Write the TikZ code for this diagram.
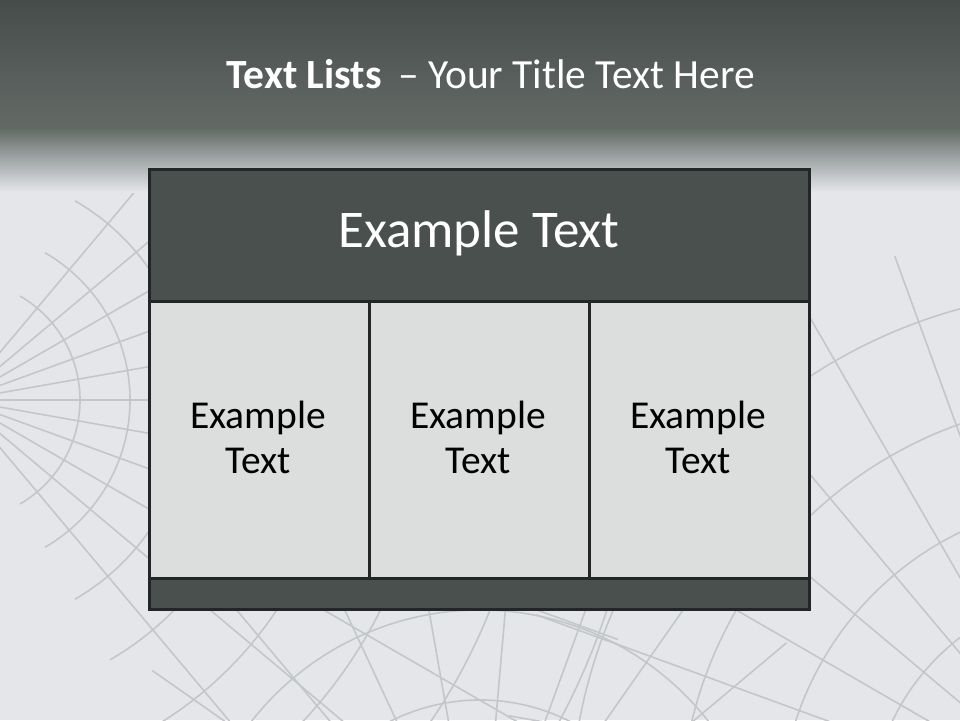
\documentclass[tikz,border=0pt]{standalone}
\usepackage{fontspec}
\setmainfont{Carlito}
\definecolor{barTop}{HTML}{474C4B}
\definecolor{barBot}{HTML}{626A66}
\definecolor{bgLight}{HTML}{E4E6EA}
\definecolor{bgMid}{HTML}{DADCDF}
\definecolor{headFill}{HTML}{4A504E}
\definecolor{cellFill}{HTML}{DCDEDD}
\definecolor{edgeCol}{HTML}{222626}
\definecolor{crack}{HTML}{C4C7CA}
\tikzset{
  cellbox/.style={draw=edgeCol, line width=3pt, fill=cellFill},
  headbox/.style={draw=edgeCol, line width=3pt, fill=headFill},
  celltext/.style={text=black, font=\fontsize{39.5}{45}\selectfont, align=center},
  headtext/.style={text=white, font=\fontsize{53}{60}\selectfont},
  crackline/.style={draw=crack, line width=1.6pt},
}
\begin{document}
\begin{tikzpicture}[x=1pt,y=-1pt]
\useasboundingbox (0,0) rectangle (960,720);
% background
\fill[bgLight] (0,0) rectangle (960,720);
% crack pattern (approximate)
\begin{scope}
\clip (0,130) rectangle (960,720);
\foreach \r in {120,170,230,300,380,470,570,680}
  \draw[crackline] (-40,400) ++(-60:\r) arc (-60:60:\r);
\foreach \a in {-50,-40,...,50}
  \draw[crackline] (-40,400) -- ++(\a:700);
\foreach \r in {150,230,320,420,530}
  \draw[crackline] (1100,820) ++(150:\r) arc (150:260:\r);
\foreach \a in {150,160,...,250}
  \draw[crackline] (1100,820) -- ++(\a:600);
\foreach \r in {120,200,290}
  \draw[crackline] (480,900) ++(200:\r) arc (200:340:\r);
\foreach \a in {200,215,...,340}
  \draw[crackline] (480,900) -- ++(\a:400);
\end{scope}
% title bar
\shade[top color=barTop, bottom color=barBot] (0,0) rectangle (960,128);
\shade[top color=barBot, bottom color=bgLight] (0,128) rectangle (960,192);
\node[text=white, font=\fontsize{41.5}{48}\selectfont, anchor=base] (title) at (491,88)
  {\textbf{Text Lists} \,– Your Title Text Here};
% table
\node[headbox, minimum width=660pt, minimum height=132pt, inner sep=0pt, anchor=north west] (head) at (148,168) {};
\node[headtext] (headlbl) at (479,233) {Example Text};
\node[cellbox, minimum width=220pt, minimum height=277pt, inner sep=0pt, anchor=north west] (c1) at (148,300) {};
\node[cellbox, minimum width=220pt, minimum height=277pt, inner sep=0pt, anchor=north west] (c2) at (368,300) {};
\node[cellbox, minimum width=220pt, minimum height=277pt, inner sep=0pt, anchor=north west] (c3) at (588,300) {};
\node[celltext] (t1) at (258,437) {Example\\Text};
\node[celltext] (t2) at (478,437) {Example\\Text};
\node[celltext] (t3) at (698,437) {Example\\Text};
\node[headbox, minimum width=660pt, minimum height=31pt, inner sep=0pt, anchor=north west] (foot) at (148,577) {};
\end{tikzpicture}
\end{document}
